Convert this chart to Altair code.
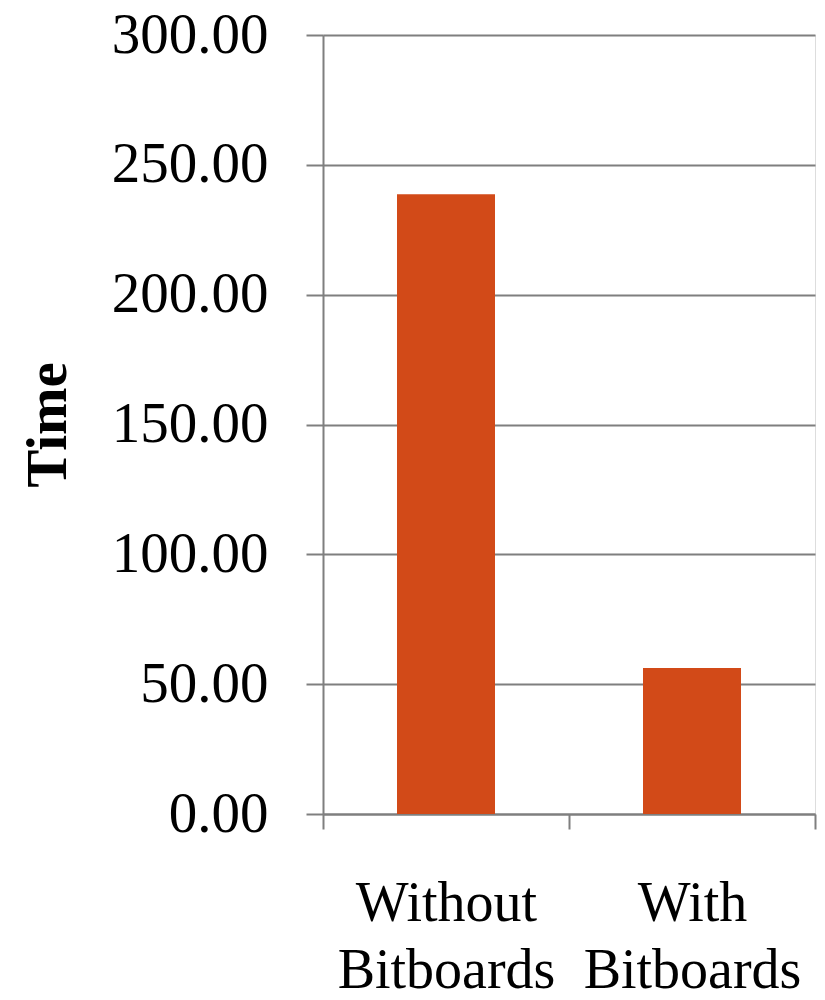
import altair as alt
import pandas as pd

categories = ["Without Bitboards", "With Bitboards"]
times = [238.7, 56.2]

df = pd.DataFrame({"cat": categories, "time": times})

FONT = "Liberation Serif"
GRAY = "#7f7f7f"

chart = alt.Chart(df).mark_bar(color="#D24A18", width=98).encode(
    x=alt.X("cat:N", sort=categories, title=None,
            scale=alt.Scale(paddingInner=0, paddingOuter=0),
            axis=alt.Axis(labelAngle=0, labelExpr="split(datum.label, ' ')",
                          labelFontSize=56, labelFont=FONT, labelColor="black",
                          labelLineHeight=67, labelPadding=47, labelLimit=1000,
                          tickBand="extent",
                          tickSize=15, tickWidth=2, tickColor=GRAY,
                          domainColor=GRAY, domainWidth=2, grid=False)),
    y=alt.Y("time:Q", title="Time",
            scale=alt.Scale(domain=[0, 300], nice=False),
            axis=alt.Axis(values=[0, 50, 100, 150, 200, 250, 300], format=".2f",
                          labelFontSize=57, labelFont=FONT, labelColor="black",
                          labelPadding=38, tickSize=17, tickWidth=2, tickColor=GRAY,
                          grid=True, gridColor=GRAY, gridWidth=2,
                          domainColor=GRAY, domainWidth=2,
                          titleFont=FONT, titleFontSize=57, titleFontWeight="bold",
                          titleColor="black", titleAngle=-90, titleBaseline="alphabetic",
                          titleX=-258, titleY=389.5, titleAlign="center")),
).properties(
    width=492, height=779,
    autosize=alt.AutoSizeParams(type="none"),
    padding={"left": 323, "top": 35, "right": 10, "bottom": 186},
).configure_view(stroke=None).configure(background="white")

chart.save("out.html", embed_options={"renderer": "svg", "actions": False})
